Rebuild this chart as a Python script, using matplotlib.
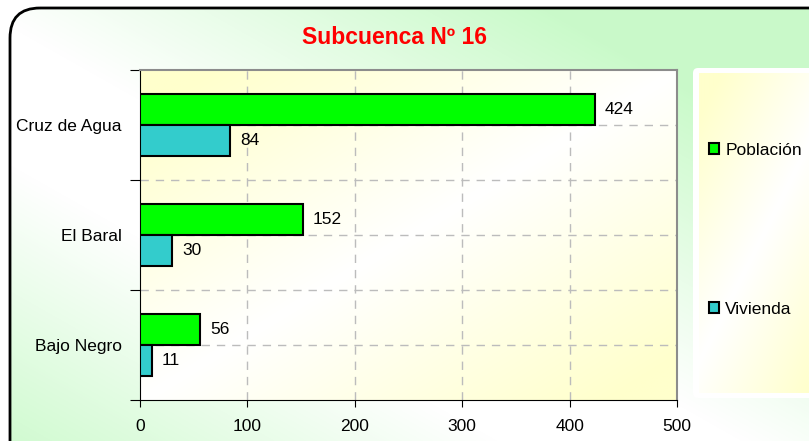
import numpy as np
import matplotlib
matplotlib.use("Agg")
import matplotlib.pyplot as plt
from matplotlib.patches import FancyBboxPatch

plt.rcParams["font.family"] = ["Liberation Sans", "DejaVu Sans"]

# data
localidades = ["Bajo Negro", "El Baral", "Cruz de Agua"]
poblacion = [56, 152, 424]
vivienda = [11, 30, 84]
series_names = ["Población", "Vivienda"]
x_ticks = [0, 100, 200, 300, 400, 500]

W, H = 809, 441
fs = 12.5
fig = plt.figure(figsize=(W / 100, H / 100), dpi=100)

# outer background with rounded border
bg = fig.add_axes([0, 0, 1, 1], zorder=-10)
bg.axis("off")
yy, xx = np.mgrid[0:H, 0:W]
d = (xx * 351 - (yy - 90) * 620) / 712.0
g = np.clip((np.abs(d) - 60) / 280.0, 0, 1)[..., None]
green = np.array([0.79, 0.98, 0.79])
img = (1 - g) * np.ones(3) + g * green
im = bg.imshow(img, extent=(0, W, H, 0), aspect="auto", interpolation="bilinear")
frame = FancyBboxPatch((10, 8), 840, 470, boxstyle="round,pad=0,rounding_size=30",
                       facecolor="none", edgecolor="black", lw=2, zorder=5)
bg.add_patch(frame)
im.set_clip_path(frame)

# legend background
leg_white = FancyBboxPatch((693, 68), 200, 330, boxstyle="round,pad=0,rounding_size=5",
                           facecolor="white", edgecolor="none", zorder=3)
bg.add_patch(leg_white)
ly, lx = np.mgrid[0:320, 0:200]
t = np.clip(np.abs(lx / 160.0 + ly / 320.0 - 0.9) * 1.3, 0, 1)[..., None]
yellow = np.array([1.0, 1.0, 0.8])
limg = (1 - t) * np.ones(3) + t * yellow
bg.imshow(limg, extent=(699, 899, 393, 73), aspect="auto", zorder=4, interpolation="bilinear")
bg.set_xlim(0, W)
bg.set_ylim(H, 0)

# main axes
ax = fig.add_axes([140 / W, 41 / H, 537 / W, 330 / H])

pimg_y, pimg_x = np.mgrid[0:200, 0:300]
tp = np.clip(np.abs(pimg_x / 300.0 + pimg_y / 200.0 - 1.0) * 1.15, 0, 1)[..., None]
pimg = (1 - tp) * np.ones(3) + tp * yellow
ax.imshow(pimg, extent=(0, 1, 0, 1), transform=ax.transAxes, aspect="auto",
          zorder=0, interpolation="bilinear")

ypos = np.arange(len(localidades))
h = 0.275
b1 = ax.barh(ypos + 0.142, poblacion, height=h, color="#00ff00", edgecolor="black",
             lw=1.5, zorder=3, label=series_names[0])
b2 = ax.barh(ypos - 0.142, vivienda, height=h, color="#33cccc", edgecolor="black",
             lw=1.5, zorder=3, label=series_names[1])
ax.bar_label(b1, padding=7, fontsize=fs)
ax.bar_label(b2, padding=7, fontsize=fs)

ax.set_xlim(0, 500)
ax.set_ylim(-0.5, 2.5)

# grid
for xv in x_ticks[1:-1]:
    ax.axvline(xv, color="#bcbcbc", lw=1, ls=(0, (6, 5)), zorder=1)
for yv in [0, 0.5, 1, 1.5, 2]:
    ax.axhline(yv, color="#bcbcbc", lw=1, ls=(0, (6, 5)), zorder=1)

ax.set_xticks(x_ticks)
ax.tick_params(axis="x", direction="out", length=5, pad=9, labelsize=fs)
ax.set_yticks([-0.5, 0.5, 1.5, 2.5])
ax.set_yticklabels([])
ax.set_yticks(ypos, minor=True)
ax.set_yticklabels(localidades, minor=True)
ax.tick_params(axis="y", which="major", direction="out", length=7)
ax.tick_params(axis="y", which="minor", length=0, pad=13, labelsize=fs)

ax.spines["left"].set_color("black")
ax.spines["bottom"].set_color("black")
ax.spines["top"].set_color("#8c8c8c")
ax.spines["right"].set_color("#8c8c8c")
ax.spines["top"].set_linewidth(1.5)
ax.spines["right"].set_linewidth(1.5)

fig.text(395 / W, 1 - 37 / H, "Subcuenca Nº 16", color="red", fontsize=16.5,
         fontweight="bold", ha="center", va="center")

fig.legend(handles=[b1, b2], loc="center left", bbox_to_anchor=(700 / W, 1 - 230 / H),
           frameon=False, fontsize=fs, handlelength=0.6, handleheight=0.6,
           handletextpad=0.35, labelspacing=8.3, borderpad=0)

fig.savefig("out.png", dpi=100)
